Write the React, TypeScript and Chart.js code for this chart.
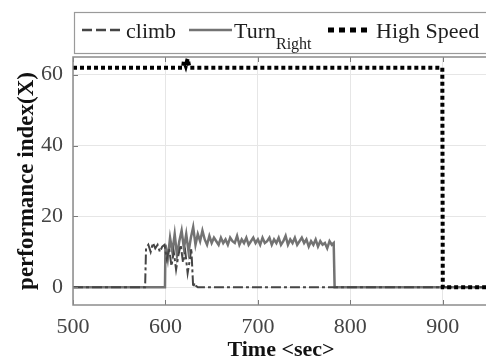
import React, { useEffect, useRef } from "react";
import { Chart, registerables } from "chart.js";

Chart.register(...registerables);

// ---- Data ----
const xTicks = [500, 600, 700, 800, 900];
const yTicks = [0, 20, 40, 60];

const climbTime = [
  500, 578, 579, 581.5, 584, 586.5, 589, 591.5, 594, 596.5,
  599, 601.5, 604, 606.5, 609, 611.5, 614, 616.5, 619, 621.5,
  624, 626.5, 628, 630, 631.5, 633, 635, 950,
];
const climbValue = [
  0, 0, 11, 12, 10, 12.5, 11, 12, 10, 11.5,
  12, 8, 11, 6, 10, 5, 9, 12, 7, 10,
  4, 8, 11, 0, 1.2, 0.4, 0, 0,
];

const turnTime = [
  500, 599.5,
  600, 602.5, 605, 607.5, 610, 612.5, 615, 617.5, 620, 622.5,
  625, 627.5, 630, 632.5, 635, 637.5, 640,
  642.5, 645, 647.5, 650, 652.5, 655, 657.5, 660, 662.5, 665,
  667.5, 670, 672.5, 675, 677.5, 680, 682.5, 685, 687.5, 690,
  692.5, 695, 697.5, 700, 702.5, 705, 707.5, 710, 712.5, 715,
  717.5, 720, 722.5, 725, 727.5, 730, 732.5, 735, 737.5, 740,
  742.5, 745, 747.5, 750, 752.5, 755, 757.5, 760, 762.5, 765,
  767.5, 770, 772.5, 775, 777.5, 780,
  782, 783, 950,
];
const turnValue = [
  0, 0,
  12, 8, 14, 10, 15, 9, 13, 16, 11, 15,
  10, 14, 17, 12, 15, 13, 16,
  13.5, 12, 14.5, 12.5, 14, 13, 12, 14, 12.5, 13.5,
  12, 14, 13, 12.5, 14.5, 12, 13.5, 12.5, 14, 12,
  13, 14, 12.5, 13.5, 12, 14, 12.5, 13, 14, 12,
  13.5, 12.5, 14, 12, 13, 14.5, 12, 13.5, 12.5, 14,
  12, 13, 14, 12.5, 13.5, 11.5, 13, 12, 13.5, 11.5,
  13, 12, 12.5, 11, 13, 12,
  12.5, 0, 0,
];

const speedTime = [500, 619, 620, 622, 624, 626, 628, 899.5, 900, 950];
const speedValue = [62, 62, 64, 62.5, 64.5, 62, 62, 62, 0, 0];

const toPoints = (xs: number[], ys: number[]) => xs.map((x, i) => ({ x, y: ys[i] }));

const FONT = "'Liberation Serif', 'Times New Roman', serif";
const CLIMB_COLOR = "#454545";
const TURN_COLOR = "#737373";
const SPEED_COLOR = "#000000";
const CLIMB_DASH = [10, 3, 3, 3];
const SPEED_DASH = [4, 3];

const framePlugin = {
  id: "frame",
  afterDraw(chart: any) {
    const { ctx, chartArea: a, scales } = chart;
    ctx.save();
    ctx.strokeStyle = "#7a7a7a";
    ctx.lineWidth = 1;
    ctx.setLineDash([]);
    const seg = (x1: number, y1: number, x2: number, y2: number) => {
      ctx.beginPath();
      ctx.moveTo(x1, y1);
      ctx.lineTo(x2, y2);
      ctx.stroke();
    };
    for (const v of xTicks) {
      const px = Math.round(scales.x.getPixelForValue(v)) + 0.5;
      seg(px, a.bottom, px, a.bottom - 5);
      seg(px, a.top, px, a.top + 5);
    }
    for (const v of yTicks) {
      const py = Math.round(scales.y.getPixelForValue(v)) + 0.5;
      seg(a.left, py, a.left + 5, py);
    }
    ctx.strokeStyle = "#8c8c8c";
    ctx.lineWidth = 1.5;
    ctx.strokeRect(a.left, a.top, a.right - a.left, a.bottom - a.top);

    // legend box
    const bx = 74.5, by = 12.5, bw = 460, bh = 41;
    ctx.fillStyle = "#ffffff";
    ctx.fillRect(bx, by, bw, bh);
    ctx.strokeStyle = "#9a9a9a";
    ctx.lineWidth = 1.2;
    ctx.strokeRect(bx, by, bw, bh);

    const ly = 30;
    const tb = 38;
    ctx.strokeStyle = CLIMB_COLOR;
    ctx.lineWidth = 2.5;
    ctx.setLineDash([10, 4]);
    seg(82, ly, 124, ly);
    ctx.strokeStyle = TURN_COLOR;
    ctx.lineWidth = 2.5;
    ctx.setLineDash([]);
    seg(189, ly, 232, ly);
    ctx.strokeStyle = SPEED_COLOR;
    ctx.lineWidth = 5;
    ctx.setLineDash([6, 5]);
    seg(328, ly, 371, ly);
    ctx.setLineDash([]);

    ctx.fillStyle = "#1e1e1e";
    ctx.textBaseline = "alphabetic";
    ctx.textAlign = "left";
    ctx.font = `22px ${FONT}`;
    ctx.fillText("climb", 126, tb);
    ctx.fillText("Turn", 234, tb);
    const tw = ctx.measureText("Turn").width;
    ctx.font = `16px ${FONT}`;
    ctx.fillText("Right", 234 + tw, 49);
    ctx.font = `22px ${FONT}`;
    ctx.fillText("High Speed", 376, tb);
    ctx.restore();
  },
};

export default function App() {
  const ref = useRef<HTMLCanvasElement>(null);

  useEffect(() => {
    if (!ref.current) return;
    const chart = new Chart(ref.current, {
      type: "line",
      data: {
        datasets: [
          {
            label: "High Speed",
            data: toPoints(speedTime, speedValue),
            borderColor: SPEED_COLOR,
            borderWidth: 4,
            borderDash: SPEED_DASH,
            pointRadius: 0,
            tension: 0,
          },
          {
            label: "climb",
            data: toPoints(climbTime, climbValue),
            borderColor: CLIMB_COLOR,
            borderWidth: 2,
            borderDash: CLIMB_DASH,
            pointRadius: 0,
            tension: 0,
          },
          {
            label: "Turn_Right",
            data: toPoints(turnTime, turnValue),
            borderColor: TURN_COLOR,
            borderWidth: 2.5,
            pointRadius: 0,
            tension: 0,
          },
        ],
      },
      options: {
        animation: false,
        responsive: false,
        layout: { padding: { top: 57, right: 11, left: 0, bottom: 0 } },
        plugins: { legend: { display: false }, tooltip: { enabled: false } },
        scales: {
          x: {
            type: "linear",
            position: "bottom",
            min: 500,
            max: 950,
            afterBuildTicks: (s: any) => {
              s.ticks = xTicks.map((v) => ({ value: v }));
            },
            afterFit: (s: any) => {
              s.height = 59;
              s.paddingLeft = 0;
              s.paddingRight = 0;
            },
            ticks: {
              font: { family: FONT, size: 22 },
              color: "#444",
              padding: 9,
              maxRotation: 0,
              autoSkip: false,
            },
            grid: { color: "#e6e6e6", drawTicks: false, tickLength: 0 },
            border: { display: false },
            title: {
              display: true,
              text: "Time <sec>",
              font: { family: FONT, size: 22, weight: "bold" },
              color: "#111",
              padding: { top: 0, bottom: 0 },
            },
          },
          y: {
            type: "linear",
            min: -5,
            max: 65,
            afterBuildTicks: (s: any) => {
              s.ticks = yTicks.map((v) => ({ value: v }));
            },
            afterFit: (s: any) => {
              s.width = 73;
              s.paddingTop = 0;
              s.paddingBottom = 0;
            },
            ticks: {
              font: { family: FONT, size: 22 },
              color: "#444",
              padding: 10,
            },
            grid: { color: "#e6e6e6", drawTicks: false, tickLength: 0 },
            border: { display: false },
            title: {
              display: true,
              text: "performance index(X)",
              font: { family: FONT, size: 23, weight: "bold" },
              color: "#111",
              padding: { top: 13, bottom: 0 },
            },
          },
        },
      },
      plugins: [framePlugin],
    } as any);
    return () => chart.destroy();
  }, []);

  return (
    <div
      style={{
        position: "fixed",
        left: 0,
        top: 0,
        width: 486,
        height: 364,
        overflow: "hidden",
        background: "#fff",
      }}
    >
      <canvas ref={ref} width={500} height={364} style={{ display: "block" }} />
    </div>
  );
}
